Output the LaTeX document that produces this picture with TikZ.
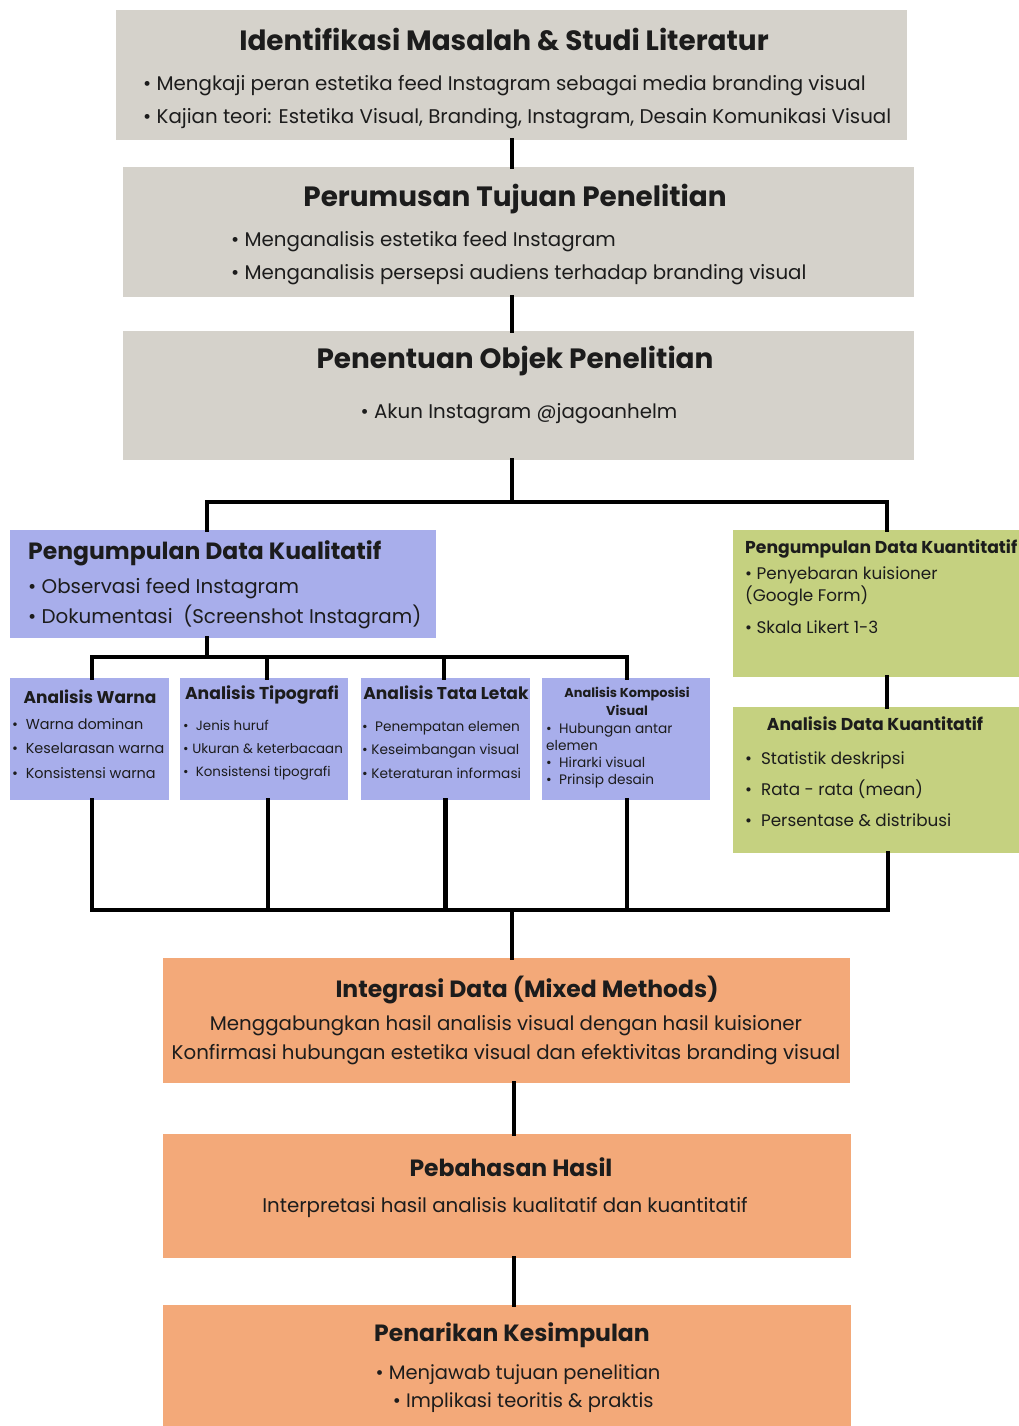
\documentclass[tikz,border=0pt]{standalone}
\usepackage{fontspec}
\setmainfont{Poppins}
\usepackage{tikz}
\usetikzlibrary{positioning}
\definecolor{boxgray}{HTML}{D5D2CB}
\definecolor{boxblue}{HTML}{A8AEEB}
\definecolor{boxgreen}{HTML}{C5D180}
\definecolor{boxorange}{HTML}{F3A979}
\definecolor{ink}{HTML}{1C1C1C}
\newcommand{\fsz}[2]{\fontsize{#1}{#2}\selectfont}

\begin{document}
\begin{tikzpicture}[x=1pt,y=-1pt,
    panel/.style={rectangle,inner sep=0pt,draw=none},
    ttl/.style={inner sep=0pt,text=ink,font=\bfseries},
    lst/.style={inner sep=0pt,text=ink,align=left,anchor=west},
    link/.style={line width=4.2pt,line cap=rect,line join=miter}]
    \useasboundingbox[fill=white] (0,0) rectangle (1019,1426);

    % top stages
    \node[panel,fill=boxgray,minimum width=791pt,minimum height=130pt] (idf) at (511.5,75) {};
    \node[ttl,font=\bfseries\fsz{27.9}{30}] (idft) at (504,39) {Identifikasi Masalah \& Studi Literatur};
    \node[lst,font=\fsz{19.8}{33}] (idfl) at (143,102)
      {• Mengkaji peran estetika feed Instagram sebagai media branding visual\\
       • Kajian teori: Estetika Visual, Branding, Instagram, Desain Komunikasi Visual};

    \node[panel,fill=boxgray,minimum width=791pt,minimum height=130pt] (rumus) at (518.5,232) {};
    \node[ttl,font=\bfseries\fsz{27.9}{30}] (rumust) at (515,199) {Perumusan Tujuan Penelitian};
    \node[lst,font=\fsz{19.8}{33}] (rumusl) at (231,258)
      {• Menganalisis estetika feed Instagram\\
       • Menganalisis persepsi audiens terhadap branding visual};

    \node[panel,fill=boxgray,minimum width=791pt,minimum height=129pt] (objek) at (518.5,395.5) {};
    \node[ttl,font=\bfseries\fsz{27.9}{30}] (objekt) at (515,361) {Penentuan Objek Penelitian};
    \node[ttl,font=\fsz{19.8}{33}] (objekl) at (519,414) {• Akun Instagram @jagoanhelm};

    % qualitative branch
    \node[panel,fill=boxblue,minimum width=426pt,minimum height=108pt] (kual) at (223,584) {};
    \node[ttl,anchor=west,font=\bfseries\fsz{23.5}{26}] (kualt) at (28,553) {Pengumpulan Data Kualitatif};
    \node[lst,font=\fsz{19.85}{30}] (kuall) at (28,603.5)
      {• Observasi feed Instagram\\
       • Dokumentasi\ \ (Screenshot Instagram)};

    \node[panel,fill=boxblue,minimum width=159pt,minimum height=122pt] (warna) at (89.5,739) {};
    \node[ttl,font=\bfseries\fsz{17}{20}] (warnat) at (90,697) {Analisis Warna};
    \node[lst,font=\fsz{14.4}{24.5}] (warnal) at (12,748.5)
      {• \ Warna dominan\\ • \ Keselarasan warna\\ • \ Konsistensi warna};

    \node[panel,fill=boxblue,minimum width=168pt,minimum height=122pt] (tipo) at (264,739) {};
    \node[ttl,font=\bfseries\fsz{17.2}{20}] (tipot) at (262,695) {Analisis Tipografi};
    \node[lst,font=\fsz{13.4}{23}] (tipol) at (183,750.5)
      {• \ Jenis huruf\\ • Ukuran \& keterbacaan\\ • \ Konsistensi tipografi};

    \node[panel,fill=boxblue,minimum width=169pt,minimum height=122pt] (tata) at (445.5,739) {};
    \node[ttl,font=\bfseries\fsz{17.1}{20}] (tatat) at (446,693) {Analisis Tata Letak};
    \node[lst,font=\fsz{13.7}{23.5}] (tatal) at (362,749.5)
      {• \ Penempatan elemen\\ • Keseimbangan visual\\ • Keteraturan informasi};

    \node[panel,fill=boxblue,minimum width=168pt,minimum height=122pt] (komp) at (626,739) {};
    \node[ttl,align=center,font=\bfseries\fsz{12.9}{18}] (kompt) at (627,701) {Analisis Komposisi\\Visual};
    \node[lst,font=\fsz{13.7}{17}] (kompl) at (546,755.5)
      {• \ Hubungan antar\\ elemen\\ • \ Hirarki visual\\ • \ Prinsip desain};

    % quantitative branch
    \node[panel,fill=boxgreen,minimum width=286pt,minimum height=147pt] (kuan) at (876,603.5) {};
    \node[ttl,anchor=west,font=\bfseries\fsz{17.2}{20}] (kuant) at (745,549) {Pengumpulan Data Kuantitatif};
    \node[lst,font=\fsz{16.8}{22}] (kuanl) at (745,600)
      {• Penyebaran kuisioner\\ (Google Form)\\[10pt] • Skala Likert 1-3};

    \node[panel,fill=boxgreen,minimum width=286pt,minimum height=146pt] (anakuan) at (876,780) {};
    \node[ttl,font=\bfseries\fsz{17.2}{20}] (anakuant) at (875,724) {Analisis Data Kuantitatif};
    \node[lst,font=\fsz{16.8}{31}] (anakuanl) at (745,789)
      {• \ Statistik deskripsi\\ • \ Rata - rata (mean)\\ • \ Persentase \& distribusi};

    % final stages
    \node[panel,fill=boxorange,minimum width=687pt,minimum height=125pt] (integ) at (506.5,1020.5) {};
    \node[ttl,font=\bfseries\fsz{23.5}{27}] (integt) at (527,990) {Integrasi Data (Mixed Methods)};
    \node[ttl,font=\fsz{19.8}{29},align=center] (integl) at (506,1040)
      {Menggabungkan hasil analisis visual dengan hasil kuisioner\\
       Konfirmasi hubungan estetika visual dan efektivitas branding visual};

    \node[panel,fill=boxorange,minimum width=688pt,minimum height=124pt] (bahas) at (507,1196) {};
    \node[ttl,font=\bfseries\fsz{23.5}{27}] (bahast) at (511,1167) {Pebahasan Hasil};
    \node[ttl,font=\fsz{19.8}{29}] (bahasl) at (505,1207) {Interpretasi hasil analisis kualitatif dan kuantitatif};

    \node[panel,fill=boxorange,minimum width=688pt,minimum height=121pt] (tarik) at (507,1365.5) {};
    \node[ttl,font=\bfseries\fsz{23.5}{27}] (tarikt) at (512,1335) {Penarikan Kesimpulan};
    \node[ttl,font=\fsz{19.5}{28},align=center] (tarikl) at (518,1389)
      {• Menjawab tujuan penelitian\\ \ \ • Implikasi teoritis \& praktis};

    % connectors
    \coordinate (split) at (512,502);
    \coordinate (kualin) at (207,530);
    \coordinate (kuanin) at (887,530);
    \coordinate (fork) at (207,657);
    \coordinate (merge) at (512,910);

    \draw[link] (idf.south -| split) -- (rumus.north -| split);
    \draw[link] (rumus.south -| split) -- (objek.north -| split);
    \draw[link] (objek.south -| split) -- (split);
    \draw[link] (kualin) -- (kualin |- split) -- (kuanin |- split) -- (kuanin);

    \draw[link] (kual.south -| fork) -- (fork);
    \draw[link] ([xshift=2.5pt]warna.north) -- ([xshift=2.5pt]warna.north |- fork)
      -- ([xshift=1pt]komp.north |- fork) -- ([xshift=1pt]komp.north);
    \draw[link] ([xshift=3pt]tipo.north) -- ([xshift=3pt]tipo.north |- fork);
    \draw[link] ([xshift=-1.5pt]tata.north) -- ([xshift=-1.5pt]tata.north |- fork);
    \draw[link] (kuan.south -| kuanin) -- (anakuan.north -| kuanin);

    \draw[link] ([xshift=2.5pt]warna.south) -- ([xshift=2.5pt]warna.south |- merge)
      -- ([xshift=1pt]kuanin |- merge) -- ([xshift=1pt]kuanin |- anakuan.south);
    \draw[link] ([xshift=4pt]tipo.south) -- ([xshift=4pt]tipo.south |- merge);
    \draw[link] (tata.south) -- (tata.south |- merge);
    \draw[link] ([xshift=1pt]komp.south) -- ([xshift=1pt]komp.south |- merge);
    \draw[link] (merge) -- (merge |- integ.north);

    \draw[link] ([xshift=7.5pt]integ.south) -- ([xshift=7.5pt]integ.south |- bahas.north);
    \draw[link] ([xshift=7pt]bahas.south) -- ([xshift=7pt]bahas.south |- tarik.north);
\end{tikzpicture}
\end{document}
